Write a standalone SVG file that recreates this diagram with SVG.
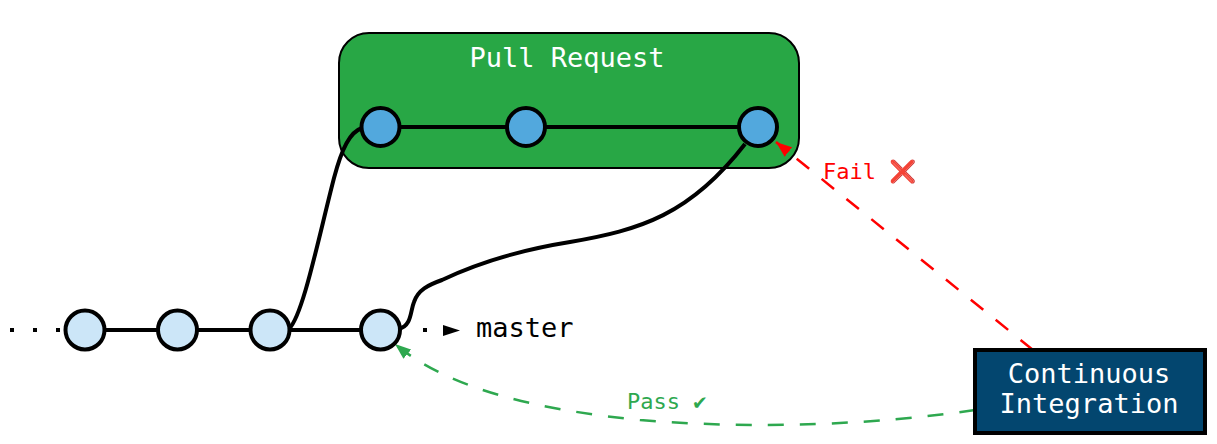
<svg xmlns="http://www.w3.org/2000/svg" width="1217" height="444" viewBox="0 0 1217 444">
<style>
text{font-family:"DejaVu Sans Mono","Liberation Mono",monospace}
.m{fill:#cce6f8;stroke:#000;stroke-width:4}
.p{fill:#52a8dd;stroke:#000;stroke-width:4}
.e{fill:none;stroke:#000;stroke-width:4}
.dot{fill:none;stroke:#000;stroke-width:4;stroke-dasharray:4,19}
.fail{fill:none;stroke:#ff0000;stroke-width:2.5;stroke-dasharray:16,16}
.pass{fill:none;stroke:#2ea84f;stroke-width:2.5;stroke-dasharray:16,16}
</style>
<defs>
<marker id="ar" markerUnits="userSpaceOnUse" viewBox="0 0 16 12" markerWidth="16" markerHeight="12" refX="16" refY="6" orient="auto"><path d="M0,0L16,6L0,12z" fill="#ff0000"/></marker>
<marker id="ag" markerUnits="userSpaceOnUse" viewBox="0 0 16 12" markerWidth="16" markerHeight="12" refX="16" refY="6" orient="auto"><path d="M0,0L16,6L0,12z" fill="#2ea84f"/></marker>
</defs>
<g id="cluster-pr">
<rect x="339" y="33" width="460" height="135" rx="30" fill="#28a745" stroke="#000" stroke-width="2"/>
<text x="567" y="67" font-size="27" fill="#fff" text-anchor="middle">Pull Request</text>
</g>
<g id="edges">
<path class="dot" d="M10,330H66"/>
<path class="e" d="M105,330H158M197,330H250M289,330H361"/>
<path class="e" d="M400,127H507M545,127H739"/>
<path class="e" d="M289,329C303,315 318,240 334,178C342,148 350,132 362,128"/>
<path class="e" d="M399,329C412,325 410,312 414,302C418,290 428,285 442,280C480,262 520,250 570,242C640,230 690,215 745,144"/>
<path class="dot" d="M423,330H427"/>
<polygon points="443,325 460,330.5 443,336" fill="#000"/>
<path class="fail" d="M1033,350L776,142" marker-end="url(#ar)"/>
<text x="823" y="179" font-size="22" fill="#ff0000">Fail ❌</text>
<path class="pass" d="M975,410C880,424 760,430 640,420C540,410 450,390 395,344" marker-end="url(#ag)"/>
<text x="627" y="409" font-size="22" fill="#2ea84f">Pass ✔</text>
</g>
<g id="m1"><circle class="m" cx="85" cy="330" r="19.5"/></g>
<g id="m2"><circle class="m" cx="177.5" cy="330" r="19.5"/></g>
<g id="m3"><circle class="m" cx="270" cy="330" r="19.5"/></g>
<g id="m4"><circle class="m" cx="380.5" cy="330" r="19.5"/></g>
<g id="p1"><circle class="p" cx="380.5" cy="127" r="19"/></g>
<g id="p2"><circle class="p" cx="526" cy="127" r="19"/></g>
<g id="p3"><circle class="p" cx="758" cy="127" r="19"/></g>
<g id="master"><text x="476" y="337" font-size="27" fill="#000">master</text></g>
<g id="ci">
<rect x="975" y="350" width="230" height="83" fill="#03466f" stroke="#000" stroke-width="4"/>
<text x="1089" y="383" font-size="27" fill="#fff" text-anchor="middle">Continuous</text>
<text x="1089" y="413" font-size="27" fill="#fff" text-anchor="middle">Integration</text>
</g>
</svg>
